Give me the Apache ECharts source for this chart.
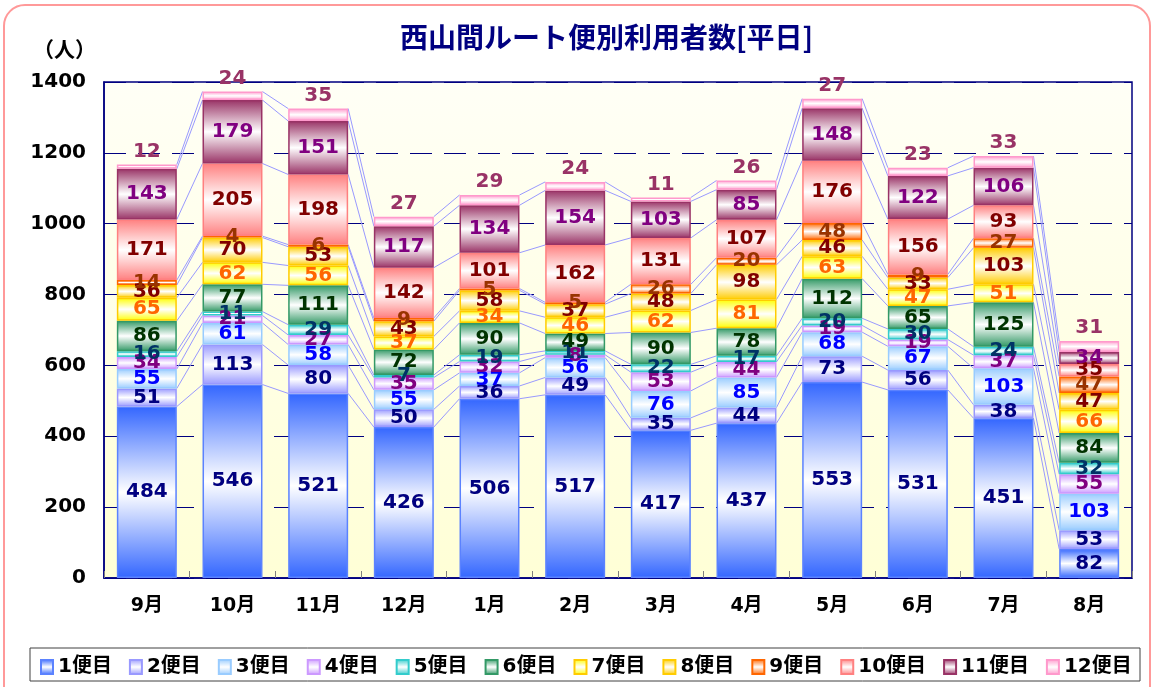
<!DOCTYPE html>
<html>
<head>
<meta charset="utf-8">
<script src="https://cdn.jsdelivr.net/npm/echarts@6/dist/echarts.min.js"></script>
<style>
  html, body { margin: 0; padding: 0; background: #fff; }
  #frame {
    position: absolute; left: 3px; top: 4px; width: 1148px; height: 730px;
    border: 2px solid #ff9999; border-radius: 22px; box-sizing: border-box;
  }
  #main { position: absolute; left: 0; top: 0; width: 1156px; height: 687px; }
</style>
</head>
<body>
<div id="frame"></div>
<div id="main"></div>
<script>
// 月 (x軸)
var months = ['9月', '10月', '11月', '12月', '1月', '2月', '3月', '4月', '5月', '6月', '7月', '8月']
var yTicks = [0, 200, 400, 600, 800, 1000, 1200, 1400]

// 便ごとの利用者数
var bin1 = [484, 546, 521, 426, 506, 517, 417, 437, 553, 531, 451, 82]
var bin2 = [51, 113, 80, 50, 36, 49, 35, 44, 73, 56, 38, 53]
var bin3 = [55, 61, 58, 55, 37, 56, 76, 85, 68, 67, 103, 103]
var bin4 = [34, 21, 27, 35, 32, 8, 53, 44, 19, 19, 37, 55]
var bin5 = [16, 11, 29, 7, 19, 11, 22, 17, 20, 30, 24, 32]
var bin6 = [86, 77, 111, 72, 90, 49, 90, 78, 112, 65, 125, 84]
var bin7 = [65, 62, 56, 37, 34, 46, 62, 81, 63, 47, 51, 66]
var bin8 = [36, 70, 53, 43, 58, 37, 48, 98, 46, 33, 103, 47]
var bin9 = [14, 4, 6, 9, 5, 5, 26, 20, 48, 9, 27, 47]
var bin10 = [171, 205, 198, 142, 101, 162, 131, 107, 176, 156, 93, 35]
var bin11 = [143, 179, 151, 117, 134, 154, 103, 85, 148, 122, 106, 34]
var bin12 = [12, 24, 35, 27, 29, 24, 11, 26, 27, 23, 33, 31]

var names = ['1便目', '2便目', '3便目', '4便目', '5便目', '6便目', '7便目', '8便目', '9便目', '10便目', '11便目', '12便目']
var bins = [bin1, bin2, bin3, bin4, bin5, bin6, bin7, bin8, bin9, bin10, bin11, bin12]

var fillColors = ['#3366ff', '#9999ff', '#99ccff', '#cc99ff', '#33cccc', '#339966',
  '#ffff00', '#ffcc00', '#ff6600', '#ff8080', '#993366', '#ff99cc']
var borderColors = ['#5b82ff', '#9999ff', '#99ccff', '#cc99ff', '#33cccc', '#339966',
  '#ffcc00', '#ffcc00', '#ff6600', '#ff8080', '#993366', '#ff99cc']
var labelColors = ['#000080', '#000080', '#0000ff', '#800080', '#003366', '#003300',
  '#ff6600', '#800000', '#993300', '#800000', '#800080', '#993366']

var numFont = '"DejaVu Sans", "Noto Sans CJK JP", sans-serif'
var jpFont = '"Noto Sans CJK JP", "DejaVu Sans", sans-serif'

// 積み上げ累計 (区分線用)
var cum = months.map(function(m, i) {
  var acc = 0
  return bins.map(function(b) { acc += b[i]; return acc })
})

var chart = echarts.init(document.getElementById('main'), null, { renderer: 'canvas' })

var barSeries = bins.map(function(b, k) {
  return {
    name: names[k],
    type: 'bar',
    stack: 'total',
    barCategoryGap: '30%',
    data: b,
    itemStyle: {
      color: new echarts.graphic.LinearGradient(0, 0, 0, 1, [
        { offset: 0, color: fillColors[k] },
        { offset: 0.5, color: '#ffffff' },
        { offset: 1, color: fillColors[k] }
      ]),
      borderColor: borderColors[k],
      borderWidth: 1.5
    },
    label: {
      show: true,
      position: k === 11 ? 'top' : 'inside',
      distance: 3,
      color: labelColors[k],
      fontFamily: numFont,
      fontWeight: 'bold',
      fontSize: 20
    },
    emphasis: { disabled: true }
  }
})

// 系列線
var lineSeries = {
  type: 'custom',
  silent: true,
  z: 1,
  data: months.slice(0, -1).map(function(m, i) { return [i, 0] }),
  encode: { x: 0, y: 1 },
  renderItem: function(params, api) {
    var i = api.value(0)
    var half = api.size([1, 0])[0] * 0.35
    var children = cum[i].map(function(v, k) {
      var p1 = api.coord([i, v])
      var p2 = api.coord([i + 1, cum[i + 1][k]])
      return {
        type: 'line',
        shape: { x1: p1[0] + half, y1: p1[1], x2: p2[0] - half, y2: p2[1] },
        style: { stroke: '#9999ff', lineWidth: 1 }
      }
    })
    return { type: 'group', children: children }
  }
}

chart.setOption({
  animation: false,
  title: {
    text: '西山間ルート便別利用者数[平日]',
    left: 395,
    top: 18,
    textStyle: { color: '#000080', fontFamily: jpFont, fontWeight: 'bold', fontSize: 28 }
  },
  graphic: [
    {
      type: 'rect',
      shape: { x: 30, y: 648, width: 1110, height: 33 },
      style: { fill: '#ffffff', stroke: '#404040', lineWidth: 1 }
    },
    {
      type: 'text',
      left: 33,
      top: 39,
      style: { text: '（人）', fill: '#000', font: 'bold 21px ' + jpFont }
    }
  ],
  legend: {
    data: names,
    left: 35,
    top: 652,
    itemWidth: 12,
    itemHeight: 14,
    itemGap: 17,
    icon: 'rect',
    textStyle: { color: '#000', fontFamily: numFont, fontWeight: 'bold', fontSize: 20 }
  },
  grid: {
    left: 104,
    right: 24,
    top: 82,
    bottom: 109,
    show: true,
    backgroundColor: new echarts.graphic.LinearGradient(0, 0, 0, 1, [
      { offset: 0, color: '#fffff6' },
      { offset: 1, color: '#ffffd6' }
    ]),
    borderColor: '#000080',
    borderWidth: 1.5
  },
  xAxis: {
    type: 'category',
    data: months,
    axisLine: { lineStyle: { color: '#000080', width: 1.5 } },
    axisTick: { show: true, inside: true, length: 7, lineStyle: { color: '#808080' } },
    axisLabel: { color: '#000', fontFamily: numFont, fontWeight: 'bold', fontSize: 19, margin: 19 }
  },
  yAxis: {
    type: 'value',
    min: yTicks[0],
    max: yTicks[yTicks.length - 1],
    interval: 200,
    axisLine: { show: true, lineStyle: { color: '#000080', width: 1.5 } },
    axisTick: { show: false },
    axisLabel: {
      color: '#000', fontFamily: numFont, fontWeight: 'bold', fontSize: 20, margin: 18,
      formatter: function(v) { return String(v) }
    },
    splitLine: { lineStyle: { color: '#000080', width: 1, type: [22, 12] } }
  },
  series: [lineSeries].concat(barSeries)
})
</script>
</body>
</html>
